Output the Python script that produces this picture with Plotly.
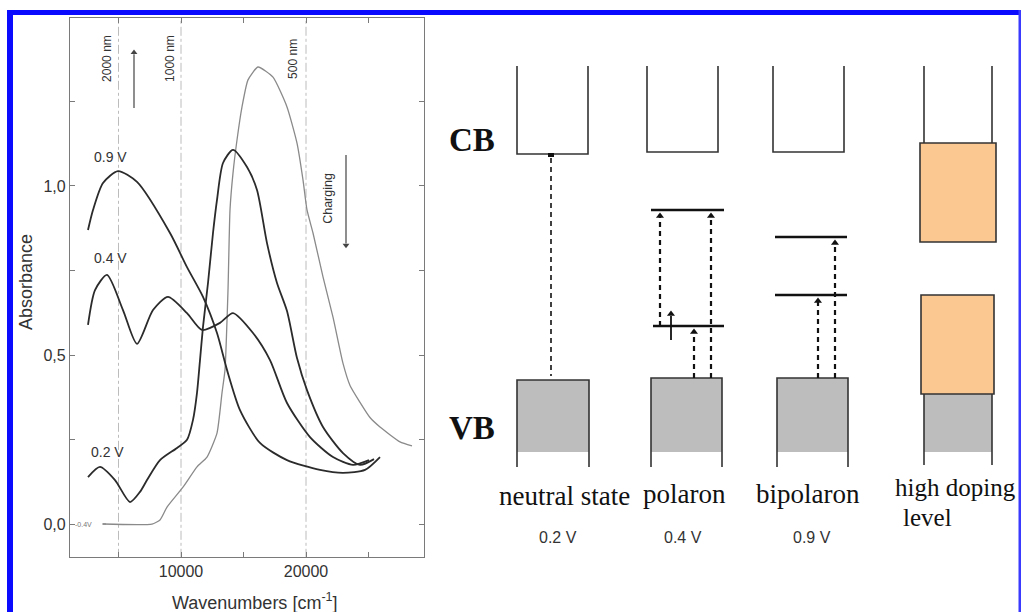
import plotly.graph_objects as go

# ---------------- data ----------------
wn_09 = [2560, 2960, 3760, 4960, 6480, 9120, 10480, 11760, 12880, 13680, 14720, 16320, 18480, 21120, 22960, 24720, 25920]
ab_09 = [0.870, 0.929, 1.009, 1.044, 1.012, 0.861, 0.760, 0.672, 0.565, 0.456, 0.337, 0.240, 0.189, 0.160, 0.151, 0.160, 0.198]

wn_04 = [2560, 3120, 4080, 5360, 6480, 7760, 8960, 10480, 11680, 13120, 14160, 15760, 17120, 18480, 20320, 22160, 23760, 25040]
ab_04 = [0.589, 0.692, 0.737, 0.633, 0.533, 0.633, 0.672, 0.624, 0.574, 0.595, 0.624, 0.565, 0.485, 0.358, 0.257, 0.198, 0.175, 0.189]

wn_02 = [2560, 3520, 4720, 5920, 6720, 7280, 8320, 9680, 10480, 10960, 11280, 11520, 11760, 12160, 12560, 12880, 13360, 14160,
         15280, 16080, 16880, 17680, 18480, 19280, 20080, 21360, 22960, 24320, 25440]
ab_02 = [0.139, 0.169, 0.130, 0.065, 0.095, 0.130, 0.189, 0.225, 0.249, 0.308, 0.388, 0.485, 0.583, 0.713, 0.861, 0.959, 1.068, 1.107,
         1.056, 0.988, 0.831, 0.713, 0.630, 0.491, 0.396, 0.287, 0.210, 0.175, 0.192]

wn_m04 = [3760, 7680, 8320, 8880, 10160, 11280, 12080, 12880, 13280, 13520, 13760, 13920, 14160, 14480, 14880, 15360, 16160,
          17360, 18480, 19280, 19760, 20080, 20560, 21360, 22160, 22960, 23520, 24320, 25120, 25920, 27520, 28480]
ab_m04 = [0.0, 0.0, 0.012, 0.050, 0.109, 0.169, 0.198, 0.269, 0.388, 0.456, 0.692, 0.929, 1.038, 1.136, 1.234, 1.314, 1.352,
          1.322, 1.234, 1.127, 1.018, 0.929, 0.861, 0.731, 0.612, 0.475, 0.410, 0.360, 0.315, 0.287, 0.243, 0.231]

curve_labels = ["0.9 V", "0.4 V", "0.2 V", "-0.4V"]
wavelength_marks_wn = [5000, 10000, 20000]
wavelength_marks_txt = ["2000 nm", "1000 nm", "500 nm"]

x_tickvals = [10000, 20000]
x_ticktext = ["10000", "20000"]
x_minorvals = [5000, 15000, 25000]
y_tickvals = [0.0, 0.5, 1.0]
y_ticktext = ["0,0", "0,5", "1,0"]
y_minorvals = [0.25, 0.75, 1.25]

states = ["neutral state", "polaron", "bipolaron", "high doping"]
state_volts = ["0.2 V", "0.4 V", "0.9 V"]

# ---------------- figure ----------------
DARK = "#2b2b2b"
SANS = "Liberation Sans, Arial, sans-serif"
SERIF = "Liberation Serif, Times New Roman, serif"

fig = go.Figure()

# wavelength guide lines
for w in wavelength_marks_wn:
    fig.add_trace(go.Scatter(x=[w, w], y=[-0.1, 1.5], mode="lines",
                             line=dict(color="#bcbcbc", width=1, dash="dashdot"),
                             hoverinfo="skip", xaxis="x", yaxis="y"))

fig.add_trace(go.Scatter(x=wn_m04, y=ab_m04, mode="lines", line=dict(color="#8a8a8a", width=1.3, shape="spline", smoothing=0.5),
                         xaxis="x", yaxis="y"))
for wn, ab in [(wn_09, ab_09), (wn_04, ab_04), (wn_02, ab_02)]:
    fig.add_trace(go.Scatter(x=wn, y=ab, mode="lines", line=dict(color=DARK, width=1.8, shape="spline", smoothing=0.7),
                             xaxis="x", yaxis="y"))

ann = []
shapes = []
# curve labels
lab_pos = [(4320, 1.086), (4320, 0.787), (4080, 0.213)]
for t, (x, y) in zip(curve_labels[:3], lab_pos):
    ann.append(dict(x=x, y=y, xref="x", yref="y", text=t, showarrow=False,
                    font=dict(family=SANS, size=14, color="#333")))
ann.append(dict(x=2200, y=0.0, xref="x", yref="y", text=curve_labels[3], showarrow=False,
                font=dict(family=SANS, size=7, color="#777")))
fig.add_trace(go.Scatter(x=[3700, 4000], y=[0, 0], mode="lines", line=dict(color="#8a8a8a", width=1.3), xaxis="x", yaxis="y"))

# wavelength labels
for w, t in zip([4080, 9120, 18960], wavelength_marks_txt):
    ann.append(dict(x=w, y=1.376, xref="x", yref="y", text=t, showarrow=False, textangle=-90,
                    font=dict(family=SANS, size=12, color="#333")))
ann.append(dict(x=21760, y=0.962, xref="x", yref="y", text="Charging", showarrow=False, textangle=-90,
                font=dict(family=SANS, size=12.5, color="#333")))
# arrows (line + head)
shapes.append(dict(type="line", xref="x", yref="y", x0=6240, x1=6240, y0=1.231, y1=1.39, line=dict(color="#444", width=1.2)))
shapes.append(dict(type="line", xref="x", yref="y", x0=23200, x1=23200, y0=1.092, y1=0.83, line=dict(color="#444", width=1.2)))
fig.add_trace(go.Scatter(x=[6240, 23200], y=[1.395, 0.825], mode="markers",
                         marker=dict(symbol=["triangle-up", "triangle-down"], size=6, color="#444"), xaxis="x", yaxis="y"))

# axis titles
ann.append(dict(x=26, y=282, xref="x2", yref="y2", text="Absorbance", showarrow=False, textangle=-90,
                font=dict(family=SANS, size=18, color="#333")))
ann.append(dict(x=255, y=601, xref="x2", yref="y2", text="Wavenumbers [cm<sup>-1</sup>]", showarrow=False,
                font=dict(family=SANS, size=18, color="#333")))

# ---------------- band diagram (pixel-like overlay axis) ----------------
LC = "#333333"
ORANGE = "#FCC891"
GRAY = "#BDBDBD"

# CB U-shapes
for x0, x1, yb in [(517, 588, 154), (647, 718, 152), (773, 844, 152)]:
    shapes.append(dict(type="path", xref="x2", yref="y2", path=f"M {x0},66 L {x0},{yb} L {x1},{yb} L {x1},66",
                       line=dict(color=LC, width=1.6)))
# neutral marker
shapes.append(dict(type="rect", xref="x2", yref="y2", x0=548, x1=554, y0=153, y1=157, fillcolor="#111", line=dict(width=0)))

# VB boxes
for x0, x1, yt in [(517, 589, 380), (651, 722, 378), (777, 848, 378)]:
    shapes.append(dict(type="rect", xref="x2", yref="y2", x0=x0, x1=x1, y0=yt, y1=452, fillcolor=GRAY, line=dict(width=0)))
    shapes.append(dict(type="path", xref="x2", yref="y2", path=f"M {x0},467 L {x0},{yt} L {x1},{yt} L {x1},467",
                       line=dict(color=LC, width=1.6)))

# high doping column
shapes.append(dict(type="rect", xref="x2", yref="y2", x0=924, x1=992, y0=394, y1=452, fillcolor=GRAY, line=dict(width=0)))
for xv in (924, 992):
    shapes.append(dict(type="line", xref="x2", yref="y2", x0=xv, x1=xv, y0=66, y1=143, line=dict(color=LC, width=1.6)))
    shapes.append(dict(type="line", xref="x2", yref="y2", x0=xv, x1=xv, y0=394, y1=465, line=dict(color=LC, width=1.6)))
shapes.append(dict(type="rect", xref="x2", yref="y2", x0=920, x1=996, y0=143, y1=242, fillcolor=ORANGE, line=dict(color=LC, width=1.6)))
shapes.append(dict(type="rect", xref="x2", yref="y2", x0=921, x1=994, y0=295, y1=394, fillcolor=ORANGE, line=dict(color=LC, width=1.6)))

# gap levels
for x0, x1, y in [(651, 724, 210), (653, 724, 326), (775, 847, 237), (775, 847, 295)]:
    shapes.append(dict(type="line", xref="x2", yref="y2", x0=x0, x1=x1, y0=y, y1=y, line=dict(color="#111", width=2.5)))

# dashed transitions
for x, y0, y1, w in [(551, 158, 376, 1.6), (660, 326, 214, 2.2), (711, 378, 214, 2.2), (694, 378, 330, 2.2),
                     (835, 378, 241, 2.2), (818, 378, 299, 2.2)]:
    shapes.append(dict(type="line", xref="x2", yref="y2", x0=x, x1=x, y0=y0, y1=y1,
                       line=dict(color="#111", width=w, dash="5px,4px")))
# spin arrow
shapes.append(dict(type="line", xref="x2", yref="y2", x0=671, x1=671, y0=340, y1=316, line=dict(color="#111", width=1.8)))
fig.add_trace(go.Scatter(x=[660, 711, 694, 835, 818, 671], y=[216, 216, 332, 243, 301, 314], mode="markers",
                         marker=dict(symbol="triangle-up", size=7, color="#111"), xaxis="x2", yaxis="y2"))

# diagram text
ann.append(dict(x=472, y=140, xref="x2", yref="y2", text="<b>CB</b>", showarrow=False,
                font=dict(family=SERIF, size=33, color="#111")))
ann.append(dict(x=472, y=428, xref="x2", yref="y2", text="<b>VB</b>", showarrow=False,
                font=dict(family=SERIF, size=33, color="#111")))
for t, x, y in zip(states[:3], [564, 684, 808], [496, 494, 494]):
    ann.append(dict(x=x, y=y, xref="x2", yref="y2", text=t, showarrow=False,
                    font=dict(family=SERIF, size=27, color="#111")))
ann.append(dict(x=893, y=487, xref="x2", yref="y2", text=states[3], showarrow=False, xanchor="left",
                font=dict(family=SERIF, size=25, color="#111")))
ann.append(dict(x=901, y=517, xref="x2", yref="y2", text="level", showarrow=False, xanchor="left",
                font=dict(family=SERIF, size=25, color="#111")))
for t, x in zip(state_volts, [558, 683, 812]):
    ann.append(dict(x=x, y=537, xref="x2", yref="y2", text=t, showarrow=False,
                    font=dict(family=SANS, size=16, color="#333")))

# blue frame
BLUE = "#0a0aff"
shapes.append(dict(type="rect", xref="x2", yref="y2", x0=7, x1=13, y0=10, y1=613, fillcolor=BLUE, line=dict(width=0), layer="above"))
shapes.append(dict(type="rect", xref="x2", yref="y2", x0=7, x1=1021, y0=10, y1=15, fillcolor=BLUE, line=dict(width=0), layer="above"))
shapes.append(dict(type="rect", xref="x2", yref="y2", x0=1018.5, x1=1021, y0=10, y1=613, fillcolor="#3a3aff", line=dict(width=0), layer="above"))

axis_common = dict(showline=True, linecolor="#7a7a7a", linewidth=1.2, mirror="allticks", ticks="inside", ticklen=5,
                   tickcolor="#7a7a7a", showgrid=False, zeroline=False, tickfont=dict(family=SANS, size=16, color="#333"))

fig.update_layout(
    width=1022, height=612, margin=dict(l=0, r=0, t=0, b=0),
    paper_bgcolor="white", plot_bgcolor="rgba(0,0,0,0)", showlegend=False,
    xaxis=dict(domain=[70 / 1022, 424 / 1022], range=[1120, 29440], tickvals=x_tickvals, ticktext=x_ticktext,
               minor=dict(tickvals=x_minorvals, ticks="inside", ticklen=5, tickcolor="#7a7a7a", showgrid=False),
               anchor="y", **axis_common),
    yaxis=dict(domain=[1 - 557 / 612, 1 - 18 / 612], range=[-0.0976, 1.497], tickvals=y_tickvals, ticktext=y_ticktext,
               minor=dict(tickvals=y_minorvals, ticks="inside", ticklen=5, tickcolor="#7a7a7a", showgrid=False),
               anchor="x", **axis_common),
    xaxis2=dict(domain=[0, 1], range=[0, 1022], visible=False, anchor="y2", fixedrange=True),
    yaxis2=dict(domain=[0, 1], range=[612, 0], visible=False, anchor="x2", fixedrange=True),
    shapes=shapes, annotations=ann,
)

fig.write_html("out.html")
